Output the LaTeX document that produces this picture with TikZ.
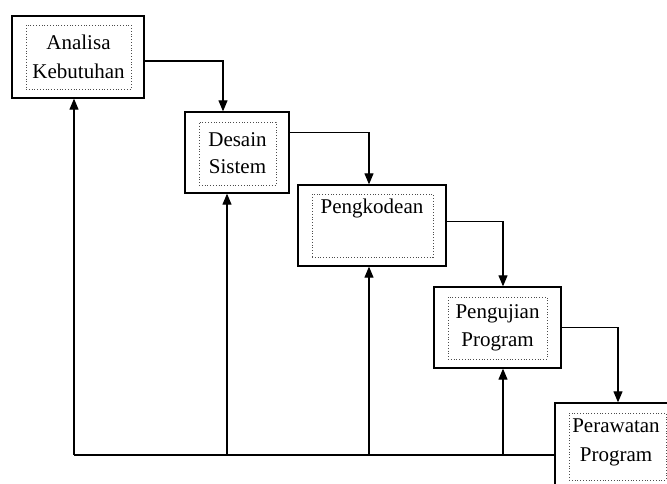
\documentclass[tikz,border=0pt]{standalone}
\usepackage{fontspec}
\setmainfont{Liberation Serif}
\usetikzlibrary{arrows.meta}

\tikzset{
  outer/.style={draw, line width=1.3pt, rectangle, inner sep=0pt},
  inner/.style={draw=black!70, dotted, line width=0.8pt, rectangle, inner sep=0pt,
    align=center, font=\fontsize{21}{30}\selectfont},
  lbl/.style={align=center, font=\fontsize{21}{30}\selectfont},
  arr/.style={line width=1.1pt, -{Triangle[length=11pt,width=9pt]}},
  ln/.style={line width=1.1pt}
}

\begin{document}
\begin{tikzpicture}[x=1pt,y=-1pt]
\useasboundingbox (0,0) rectangle (667,484);
\clip (0,0) rectangle (667,484);
\fill[white] (0,0) rectangle (667,484);

% tahapan
\node[outer, minimum width=132pt, minimum height=82pt] (b1) at (78,57) {};
\node[inner, minimum width=105pt, minimum height=64pt] (i1) at (78.5,57) {Analisa\\[-1pt]Kebutuhan};

\node[outer, minimum width=104pt, minimum height=81pt] (b2) at (237,152.5) {};
\node[inner, minimum width=77pt, minimum height=63pt] (i2) at (237.5,153.5) {Desain\\[-3pt]Sistem};

\node[outer, minimum width=148pt, minimum height=81pt] (b3) at (372,225.5) {};
\node[inner, minimum width=121pt, minimum height=63pt] (i3) at (372.5,225.5) {};
\node[lbl] (t3) at (372,208) {Pengkodean};

\node[outer, minimum width=127pt, minimum height=81pt] (b4) at (497.5,327.5) {};
\node[inner, minimum width=99pt, minimum height=62pt] (i4) at (497.5,328) {Pengujian\\[-2pt]Program};

\node[outer, minimum width=125pt, minimum height=89pt] (b5) at (617.5,447.5) {};
\node[inner, minimum width=97pt, minimum height=67pt] (i5) at (617.5,446.5) {};
\node[lbl] (t5) at (616,442) {Perawatan\\[-1pt]Program};

% alur maju
\draw[arr] ([yshift=-4pt]b1.east) -| ([xshift=-14pt]b2.north);
\draw[arr] ([yshift=20pt]b2.east) -| ([xshift=-3pt]b3.north);
\draw[arr] ([yshift=4pt]b3.east) -| ([xshift=5.5pt]b4.north);
\draw[arr] (b4.east) -| ([xshift=0.5pt]b5.north);

% alur balik
\coordinate (f1) at (74,455);
\coordinate (f2) at (227,455);
\coordinate (f3) at (369,455);
\coordinate (f4) at (503,455);
\draw[ln] ([yshift=-7.5pt]b5.west) -- (f1);
\foreach \f/\b in {f1/b1,f2/b2,f3/b3,f4/b4}
  \draw[arr] (\f) -- (\f |- \b.south);
\end{tikzpicture}
\end{document}
